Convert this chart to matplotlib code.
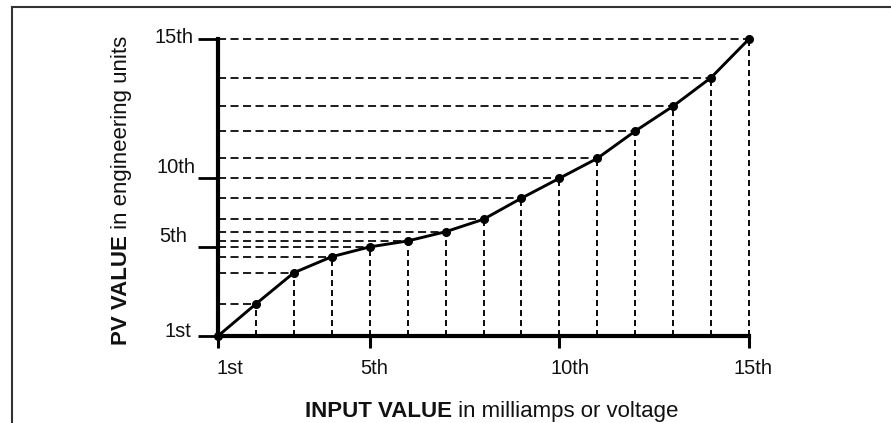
import numpy as np
import matplotlib.pyplot as plt
from matplotlib.lines import Line2D
from matplotlib.transforms import IdentityTransform

plt.rcParams['font.family'] = ['Liberation Sans', 'DejaVu Sans']
plt.rcParams['lines.scale_dashes'] = False

# breakpoints 1st..15th: input position and PV value (% of span)
input_pts = np.arange(1, 16)
pv_pts = [0, 10.8, 21.3, 26.7, 30.0, 32.0, 35.1, 39.3, 46.4, 53.1, 59.8, 69.0, 77.4, 87.0, 100.0]

# which breakpoints get a labelled tick
tick_idx = [0, 4, 9, 14]
tick_names = ['1st', '5th', '10th', '15th']

W, H = 891, 423
fig = plt.figure(figsize=(W / 100, H / 100), dpi=100)

# outer frame (left and top edges only)
fig.add_artist(Line2D([11.5 / W, 11.5 / W], [0, 1 - 7.5 / H], color='#333333', lw=1.5))
fig.add_artist(Line2D([11.5 / W, 1], [1 - 7.5 / H, 1 - 7.5 / H], color='#333333', lw=1.5))

ax = fig.add_axes([218 / W, 1 - 336 / H, (749 - 218) / W, (336 - 39) / H])
ax.set_xlim(1, 15)
ax.set_ylim(0, 100)
ax.patch.set_visible(False)
for s in ['top', 'right']:
    ax.spines[s].set_visible(False)
for s in ['left', 'bottom']:
    ax.spines[s].set_linewidth(3)
    ax.spines[s].set_capstyle('projecting')
    ax.spines[s].set_zorder(4)

ax.set_xticks([input_pts[i] for i in tick_idx])
ax.set_yticks([pv_pts[i] for i in tick_idx])
ax.tick_params(axis='x', direction='out', length=8.6, width=2.2, labelbottom=False)
ax.tick_params(axis='y', direction='out', length=14.4, width=2.0, labelleft=False)

# dashed guides from each breakpoint back to both axes
for x, y in zip(input_pts[1:], pv_pts[1:]):
    ax.plot([1, x], [y, y], color='black', lw=1.25, dashes=(5.8, 3.2), clip_on=False, zorder=2)
    ax.plot([x, x], [0, y], color='black', lw=1.35, dashes=(4.3, 2.9), clip_on=False, zorder=2)

ax.plot(input_pts, pv_pts, color='black', lw=2.1, marker='o', ms=5.5,
        solid_joinstyle='round', solid_capstyle='round', clip_on=False, zorder=5)

# tick labels, nudged by hand
y_offsets = [(-27, -1), (-31, 4.8), (-22, 5.2), (-25, -3.8)]
x_offsets = [(11.5, -37.5), (4, -37.5), (11, -37.5), (4, -37.5)]
for i, name, yo, xo in zip(tick_idx, tick_names, y_offsets, x_offsets):
    ax.annotate(name, (1, pv_pts[i]), xytext=yo, textcoords='offset pixels',
                ha='right', va='baseline', fontsize=14.5, color='#111111')
    ax.annotate(name, (input_pts[i], 0), xytext=xo, textcoords='offset pixels',
                ha='center', va='baseline', fontsize=14.5, color='#111111')

# axis titles: bold lead words followed by regular text
fig.canvas.draw()
r = fig.canvas.get_renderer()
px = IdentityTransform()

xb = fig.text(0, 0, 'INPUT VALUE', fontsize=16, fontweight='bold', va='baseline',
              transform=px, color='#111111')
xr = fig.text(0, 0, ' in milliamps or voltage', fontsize=16, va='baseline',
              transform=px, color='#111111')
w1 = xb.get_window_extent(r).width
w2 = xr.get_window_extent(r).width
x0 = 491.5 - (w1 + w2) / 2
xb.set_position((x0, H - 416.5))
xr.set_position((x0 + w1, H - 416.5))

yb = fig.text(126.7, H - 344.5, 'PV VALUE', fontsize=16, fontweight='bold', rotation=90,
              rotation_mode='anchor', ha='left', va='baseline', transform=px, color='#111111')
h1 = yb.get_window_extent(r).height
fig.text(126.7, H - 344.5 + h1, ' in engineering units', fontsize=16, rotation=90,
         rotation_mode='anchor', ha='left', va='baseline', transform=px, color='#111111')

fig.savefig('out.png', dpi=100)
